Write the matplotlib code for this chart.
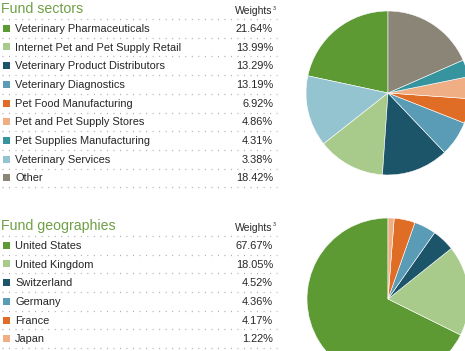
import matplotlib
matplotlib.use("Agg")
import matplotlib.pyplot as plt
from matplotlib.patches import Rectangle

W, H = 465, 351

# data
sector_names = [
    "Veterinary Pharmaceuticals",
    "Internet Pet and Pet Supply Retail",
    "Veterinary Product Distributors",
    "Veterinary Diagnostics",
    "Pet Food Manufacturing",
    "Pet and Pet Supply Stores",
    "Pet Supplies Manufacturing",
    "Veterinary Services",
    "Other",
]
sector_weights = [21.64, 13.99, 13.29, 13.19, 6.92, 4.86, 4.31, 3.38, 18.42]
sector_labels = ["21.64%", "13.99%", "13.29%", "13.19%", "6.92%", "4.86%", "4.31%", "3.38%", "18.42%"]

geo_names = ["United States", "United Kingdom", "Switzerland", "Germany", "France", "Japan"]
geo_weights = [67.67, 18.05, 4.52, 4.36, 4.17, 1.22]
geo_labels = ["67.67%", "18.05%", "4.52%", "4.36%", "4.17%", "1.22%"]

GREEN = "#5e9a34"
LGREEN = "#a8cb8c"
NAVY = "#1c5469"
MBLUE = "#5a9bb6"
ORANGE = "#e06d26"
LORANGE = "#efae84"
TEAL = "#36949f"
LBLUE = "#94c4d0"
GRAY = "#8a8576"

legend_colors = [GREEN, LGREEN, NAVY, MBLUE, ORANGE, LORANGE, TEAL, LBLUE, GRAY]
# the sector pie uses its own colour sequence
sector_pie_colors = [GREEN, LBLUE, LGREEN, NAVY, MBLUE, ORANGE, LORANGE, TEAL, GRAY]
geo_colors = [GREEN, LGREEN, NAVY, MBLUE, ORANGE, LORANGE]

plt.rcParams["lines.scale_dashes"] = False
FONT = "Liberation Sans"
TEXT_C = "#262626"
TITLE_C = "#6fa045"
DOT_C = "#a8a8a8"

fig = plt.figure(figsize=(W / 100, H / 100), dpi=100)
ax = fig.add_axes([0, 0, 1, 1])
ax.set_xlim(0, W)
ax.set_ylim(H, 0)
ax.axis("off")


def dotted(y):
    ax.plot([2, 277], [y, y], color=DOT_C, lw=0.9, linestyle=(0, (0.7, 4.0)),
            solid_capstyle="butt", dash_capstyle="butt")


def table(title, y_title, names, labels, colors, row_h=18.7):
    ax.text(1, y_title, title, fontsize=10.2, color=TITLE_C, family=FONT,
            va="center", ha="left")
    ax.text(272, y_title + 2, "Weights", fontsize=7.5, color=TEXT_C, family=FONT,
            va="center", ha="right")
    ax.text(272.5, y_title - 1, "3", fontsize=3.8, color=TEXT_C, family=FONT,
            va="center", ha="left")
    y = y_title + 10
    dotted(y)
    for name, lab, c in zip(names, labels, colors):
        yc = y + row_h / 2
        ax.add_patch(Rectangle((3, yc - 3.6), 7, 7, color=c, lw=0))
        ax.text(15, yc + 0.5, name, fontsize=7.9, color=TEXT_C, family=FONT,
                va="center", ha="left")
        ax.text(273, yc + 0.5, lab, fontsize=7.9, color=TEXT_C, family=FONT,
                va="center", ha="right")
        y += row_h
        dotted(y)


table("Fund sectors", 9, sector_names, sector_labels, legend_colors)
table("Fund geographies", 226, geo_names, geo_labels, geo_colors)


def pie(cx, cy, r, values, colors):
    pax = fig.add_axes([(cx - r) / W, (H - cy - r) / H, 2 * r / W, 2 * r / H])
    pax.pie(values, colors=colors, startangle=90, counterclock=True,
            wedgeprops=dict(linewidth=0.4, edgecolor="white"))
    pax.set_xlim(-1, 1)
    pax.set_ylim(-1, 1)
    pax.set_aspect("auto")
    pax.axis("off")


pie(388, 93, 82, sector_weights, sector_pie_colors)
pie(388, 299, 81, geo_weights, geo_colors)

fig.savefig("out.png", dpi=100)
